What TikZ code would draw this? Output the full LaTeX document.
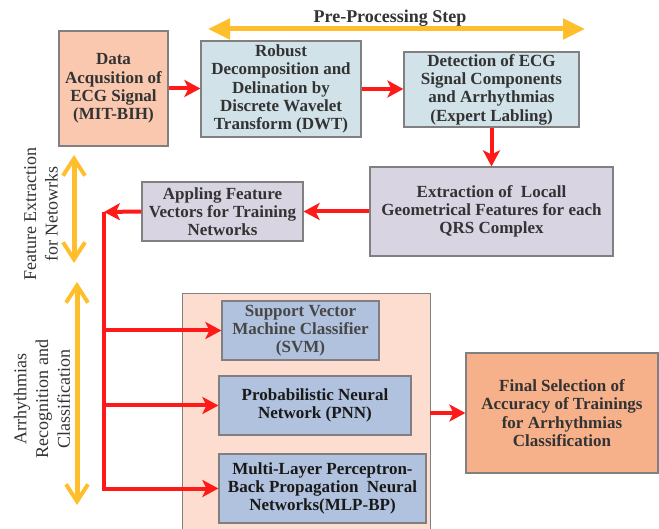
\documentclass[tikz,border=0pt]{standalone}
\usepackage{fontspec}
\setmainfont{Liberation Serif}
\usetikzlibrary{arrows.meta}

\definecolor{edgegray}{HTML}{808080}
\definecolor{txtdark}{HTML}{333333}
\definecolor{txtsoft}{HTML}{474747}
\definecolor{acqfill}{HTML}{F9C8AF}
\definecolor{prefill}{HTML}{D1E2E9}
\definecolor{featfill}{HTML}{D8D4E2}
\definecolor{groupfill}{HTML}{FDDDD0}
\definecolor{clsfill}{HTML}{B0C2DE}
\definecolor{finalfill}{HTML}{F6B08A}
\definecolor{flowred}{HTML}{FF1A1A}
\definecolor{stageyellow}{HTML}{FFBE2B}

\newcommand{\boxfont}{\fontsize{17}{18.3}\selectfont\bfseries}
\newcommand{\sidefont}{\fontsize{18}{21.7}\selectfont}

\begin{document}
\begin{tikzpicture}[x=1pt,y=-1pt,
  stagebox/.style={draw=edgegray, line width=1.2pt, align=center,
    font=\boxfont, text=txtdark, inner sep=0pt},
  flow/.style={draw=flowred, line width=4pt,
    -{Stealth[length=16pt,width=17pt,inset=4pt]}},
  flowline/.style={draw=flowred, line width=4pt},
  span/.style={draw=stageyellow, line width=5pt,
    {Straight Barb[length=17pt,width=22pt,line width=4pt]}-{Straight Barb[length=17pt,width=22pt,line width=4pt]}},
  sidelabel/.style={rotate=90, align=center, font=\sidefont, text=txtdark}
]
\useasboundingbox (0,0) rectangle (659,529);

% classifier group panel (runs off the bottom edge)
\node[fill=groupfill, minimum width=247pt, minimum height=240pt, inner sep=0pt]
  (group) at (306.5,414) {};
\draw[edgegray, line width=1.2pt] (group.south west) -- (group.north west)
  -- (group.north east) -- (group.south east);

% pre-processing stage
\node[stagebox, fill=acqfill, minimum width=109pt, minimum height=115pt]
  (acq) at (113.5,88.5) {Data\\Acqusition of\\ECG Signal\\(MIT-BIH)};
\node[stagebox, fill=prefill, minimum width=160pt, minimum height=96pt]
  (dwt) at (281,89) {Robust\\Decomposition and\\Delination by\\Discrete Wavelet\\Transform (DWT)};
\node[stagebox, fill=prefill, minimum width=175pt, minimum height=75pt]
  (detect) at (491.5,89.5) {Detection of ECG\\Signal Components\\and Arrhythmias\\(Expert Labling)};

% feature stage
\node[stagebox, fill=featfill, minimum width=243pt, minimum height=89pt]
  (extract) at (491.5,211.5) {Extraction of~ Locall\\Geometrical Features for each\\QRS Complex};
\node[stagebox, fill=featfill, minimum width=161pt, minimum height=59pt]
  (apply) at (222.5,211.5) {Appling Feature\\Vectors for Training\\Networks};

% classifiers
\node[stagebox, fill=clsfill, minimum width=157pt, minimum height=59pt, text=txtsoft]
  (svm) at (300.5,330.5) {Support Vector\\Machine Classifier\\(SVM)};
\node[stagebox, fill=clsfill, minimum width=192pt, minimum height=59pt, text=black!90]
  (pnn) at (315,405.5) {Probabilistic Neural\\Network (PNN)};
\node[stagebox, fill=clsfill, minimum width=207pt, minimum height=69pt, text=black!90]
  (mlp) at (322.5,488.5) {Multi-Layer Perceptron-\\Back Propagation~ Neural\\Networks(MLP-BP)};

% final decision
\node[stagebox, fill=finalfill, minimum width=192pt, minimum height=120pt]
  (final) at (562,413) {Final Selection of\\Accuracy of Trainings\\for Arrhythmias\\Classification};

% main flow
\draw[flow] (acq.east) -- (acq.east -| dwt.west);
\draw[flow] (dwt.east) -- (dwt.east -| detect.west);
\draw[flow] (detect.south) -- (extract.north);
\draw[flow] (extract.west) -- (apply.east);

% distribution trunk to the classifiers
\coordinate (trunk) at (104,212);
\draw[flow] (apply.west) -- (trunk);
\draw[flowline, line join=miter] (trunk) -- (trunk |- mlp.west);
\draw[flow] (trunk |- svm.west) -- (svm.west);
\draw[flow] (trunk |- pnn.west) -- (pnn.west);
\draw[flow] ([xshift=-2pt]trunk |- mlp.west) -- (mlp.west);
\draw[flow] (group.east |- final.west) -- (final.west);

% stage spans
\coordinate (preL) at (208,29);
\coordinate (preR) at (585,29);
\draw[draw=stageyellow, line width=5pt,
  {Triangle[length=22pt,width=20pt]}-{Triangle[length=22pt,width=20pt]}] (preL) -- (preR);
\node[font=\fontsize{18}{20}\selectfont\bfseries, text=txtdark] (prelabel) at (390,18) {Pre-Processing Step};

\coordinate (featT) at (74,155);
\coordinate (featB) at (74,263);
\draw[span] (featT) -- (featB);
\node[sidelabel] (featlabel) at (41,214) {Feature Extraction\\for Netowrks};

\coordinate (clsT) at (77,282);
\coordinate (clsB) at (77,505);
\draw[span] (clsT) -- (clsB);
\node[sidelabel] (clslabel) at (42,399) {Arrhythmias\\Recognition and\\Classification};
\end{tikzpicture}
\end{document}
